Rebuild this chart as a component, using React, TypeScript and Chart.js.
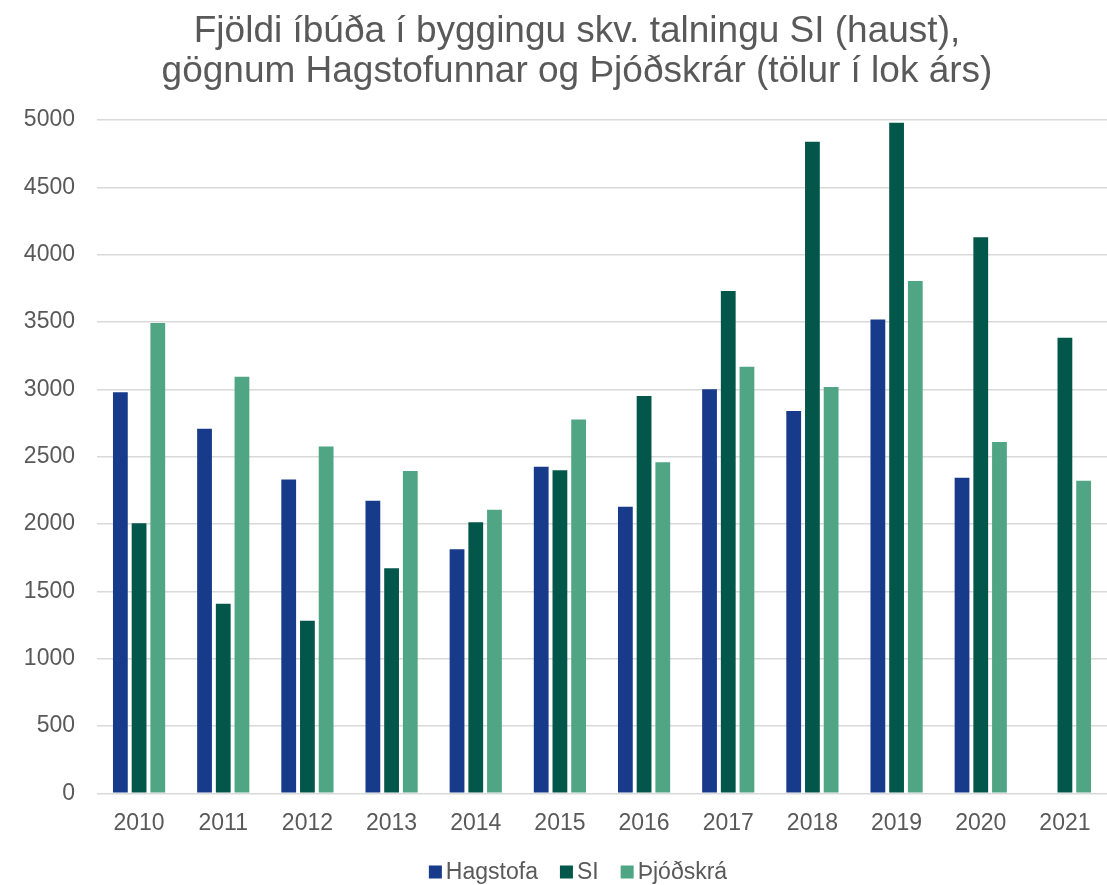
import React, { useEffect, useRef } from "react";
import { Chart, registerables } from "chart.js";

Chart.register(...registerables);

const years = ["2010", "2011", "2012", "2013", "2014", "2015", "2016", "2017", "2018", "2019", "2020", "2021"];
const hagstofa = [2978, 2707, 2331, 2173, 1812, 2426, 2129, 3000, 2840, 3518, 2344, null];
const si = [2005, 1409, 1282, 1671, 2013, 2400, 2951, 3730, 4839, 4980, 4129, 3384];
const thjodskra = [3493, 3094, 2576, 2393, 2107, 2777, 2458, 3168, 3018, 3805, 2609, 2322];
const seriesNames = ["Hagstofa", "SI", "Þjóðskrá"];
const seriesColors = ["#183A8B", "#03574A", "#4FA584"];
const titleLines = [
  "Fjöldi íbúða í byggingu skv. talningu SI (haust),",
  "gögnum Hagstofunnar og Þjóðskrár (tölur í lok árs)",
];

const FONT = "'Liberation Sans', Arial, sans-serif";
const TEXT = "#595959";
const CENTER_X = 577;

const titleLegendPlugin = {
  id: "titleLegend",
  afterDraw(chart: any) {
    const ctx = chart.ctx;
    ctx.save();
    // title
    ctx.font = `37px ${FONT}`;
    ctx.fillStyle = TEXT;
    ctx.textAlign = "center";
    ctx.textBaseline = "middle";
    titleLines.forEach((line, i) => ctx.fillText(line, CENTER_X, 32 + i * 40));

    // legend
    const fontSize = 23;
    const box = 13;
    const gapText = 4;
    const gapItem = 22;
    ctx.font = `${fontSize}px ${FONT}`;
    ctx.textAlign = "left";
    const items = chart.data.datasets.map((ds: any) => ({
      label: ds.label,
      color: ds.backgroundColor,
      w: ctx.measureText(ds.label).width,
    }));
    const total =
      items.reduce((s: number, it: any) => s + box + gapText + it.w, 0) + gapItem * (items.length - 1);
    let x = CENTER_X + 1 - total / 2;
    const cy = 872;
    for (const it of items) {
      ctx.fillStyle = it.color;
      ctx.fillRect(x, cy - box / 2, box, box);
      x += box + gapText;
      ctx.fillStyle = TEXT;
      ctx.fillText(it.label, x, cy + 1);
      x += it.w + gapItem;
    }
    ctx.restore();
  },
};

export default function App() {
  const ref = useRef<HTMLCanvasElement | null>(null);
  useEffect(() => {
    document.body.style.margin = "0";
    if (!ref.current) return;
    const data = [hagstofa, si, thjodskra];
    const chart = new Chart(ref.current, {
      type: "bar",
      data: {
        labels: years,
        datasets: seriesNames.map((name, i) => ({
          label: name,
          data: data[i],
          backgroundColor: seriesColors[i],
          borderWidth: 0,
          categoryPercentage: 0.667,
          barPercentage: 0.79,
        })),
      },
      plugins: [titleLegendPlugin],
      options: {
        animation: false,
        responsive: false,
        maintainAspectRatio: false,
        layout: { padding: { left: 0, right: 0, top: 120, bottom: 40 } },
        plugins: {
          title: { display: false },
          legend: { display: false },
          tooltip: { enabled: false },
        },
        scales: {
          x: {
            grid: { display: false },
            border: { display: false },
            ticks: { color: TEXT, font: { family: FONT, size: 23 }, padding: 8 },
          },
          y: {
            min: 0,
            max: 5000,
            ticks: {
              stepSize: 500,
              color: TEXT,
              font: { family: FONT, size: 23 },
              padding: 22,
              callback: (v: any) => String(v),
            },
            grid: { color: "#d9d9d9", lineWidth: 1.6, drawTicks: false },
            border: { display: false },
            afterFit: (scale: any) => {
              scale.width = 97;
            },
          },
        },
      },
    });
    return () => chart.destroy();
  }, []);
  return (
    <div style={{ width: 1107, height: 885 }}>
      <canvas ref={ref} width={1107} height={885} style={{ width: 1107, height: 885, display: "block" }} />
    </div>
  );
}
